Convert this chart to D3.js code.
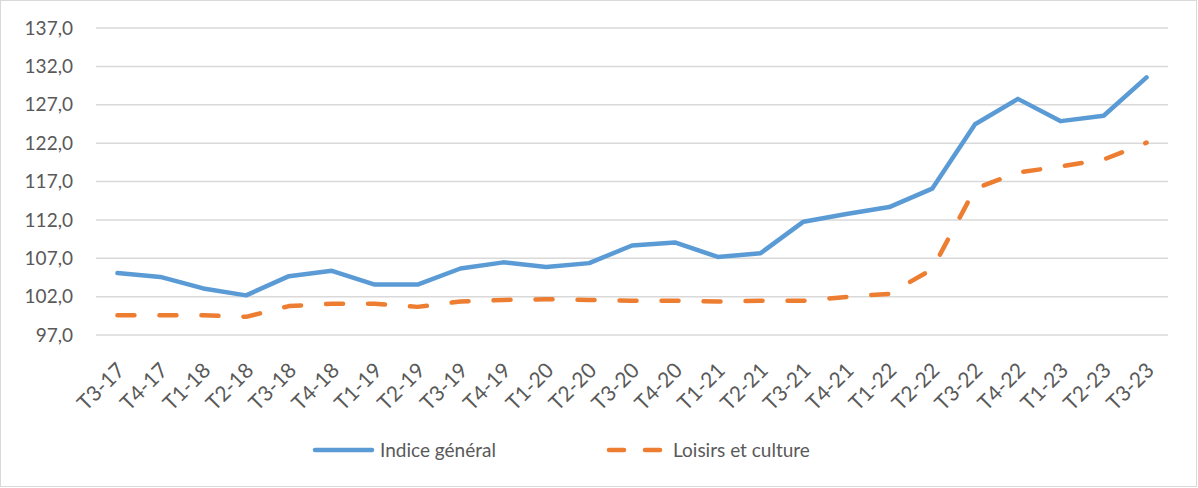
<!DOCTYPE html>
<html>
<head>
<meta charset="utf-8">
<script src="https://cdn.jsdelivr.net/npm/d3@7"></script>
<style>
  body { margin: 0; background: #fff; }
  svg { display: block; }
  text { font-family: Lato, "Open Sans", sans-serif; fill: #595959; }
</style>
</head>
<body>
<div id="chart"></div>
<script>
// trimestres
var categories = ["T3-17","T4-17","T1-18","T2-18","T3-18","T4-18","T1-19","T2-19","T3-19","T4-19",
  "T1-20","T2-20","T3-20","T4-20","T1-21","T2-21","T3-21","T4-21","T1-22","T2-22",
  "T3-22","T4-22","T1-23","T2-23","T3-23"];
var indiceGeneral = [105.0,104.5,103.0,102.1,104.6,105.3,103.5,103.5,105.6,106.4,
  105.8,106.3,108.6,109.0,107.1,107.6,111.7,112.7,113.6,116.0,
  124.4,127.7,124.8,125.5,130.5];
var loisirsCulture = [99.5,99.5,99.5,99.3,100.7,101.0,101.0,100.6,101.3,101.5,
  101.6,101.5,101.4,101.4,101.3,101.4,101.4,101.9,102.3,105.5,
  116.0,118.1,118.9,119.8,122.0];
var yTicks = [97,102,107,112,117,122,127,132,137];
var seriesNames = ["Indice général","Loisirs et culture"];

var W = 1198, H = 488;
var mLeft = 96, mRight = 1168, mTop = 27.5, mBottom = 334.5;
var blue = "#5B9BD5", orange = "#ED7D31";

var svg = d3.select("#chart").append("svg").attr("width", W).attr("height", H);

svg.append("rect")
  .attr("x", 0.5).attr("y", 0.5).attr("width", W - 2).attr("height", H - 2)
  .attr("fill", "#fff").attr("stroke", "#d9d9d9");

var x = d3.scalePoint().domain(categories).range([mLeft, mRight]).padding(0.5);
var y = d3.scaleLinear().domain([97, 137]).range([mBottom, mTop]);

// grille + axe y
var yAxis = d3.axisLeft(y).tickValues(yTicks)
  .tickSize(-(mRight - mLeft))
  .tickFormat(function(d){ return d3.format(".1f")(d).replace(".", ","); });
var gy = svg.append("g").attr("transform", "translate(" + mLeft + ",0)").call(yAxis);
gy.select(".domain").remove();
gy.selectAll(".tick line").attr("stroke", "#d9d9d9").attr("stroke-width", 1.5);
gy.selectAll(".tick text").attr("x", -23).attr("dy", "0.35em")
  .style("font-size", "19px").attr("fill", "#595959");

// axe x
var xAxis = d3.axisBottom(x).tickSize(0);
var gx = svg.append("g").attr("transform", "translate(0," + mBottom + ")").call(xAxis);
gx.select(".domain").remove();
gx.selectAll(".tick text")
  .attr("text-anchor", "end")
  .attr("transform", "translate(3,32) rotate(-45)")
  .attr("x", 0).attr("y", 0).attr("dy", "0.35em")
  .style("font-size", "21px").attr("fill", "#595959");

var line = d3.line()
  .x(function(d, i){ return x(categories[i]); })
  .y(function(d){ return y(d); });

svg.append("path").datum(indiceGeneral)
  .attr("d", line).attr("fill", "none")
  .attr("stroke", blue).attr("stroke-width", 4.5)
  .attr("stroke-linejoin", "round").attr("stroke-linecap", "round");

svg.append("path").datum(loisirsCulture)
  .attr("d", line).attr("fill", "none")
  .attr("stroke", orange).attr("stroke-width", 4.5)
  .attr("stroke-dasharray", "17,25")
  .attr("stroke-linejoin", "round").attr("stroke-linecap", "round");

// légende
var leg = svg.append("g");
leg.append("line").attr("x1", 315).attr("x2", 372).attr("y1", 450).attr("y2", 450)
  .attr("stroke", blue).attr("stroke-width", 4.5).attr("stroke-linecap", "round");
leg.append("text").attr("x", 380).attr("y", 450).attr("dy", "0.35em")
  .style("font-size", "19px").text(seriesNames[0]);
leg.append("line").attr("x1", 609).attr("x2", 661).attr("y1", 450).attr("y2", 450)
  .attr("stroke", orange).attr("stroke-width", 4.5).attr("stroke-linecap", "round")
  .attr("stroke-dasharray", "15,21");
leg.append("text").attr("x", 673).attr("y", 450).attr("dy", "0.35em")
  .style("font-size", "19px").text(seriesNames[1]);
</script>
</body>
</html>
